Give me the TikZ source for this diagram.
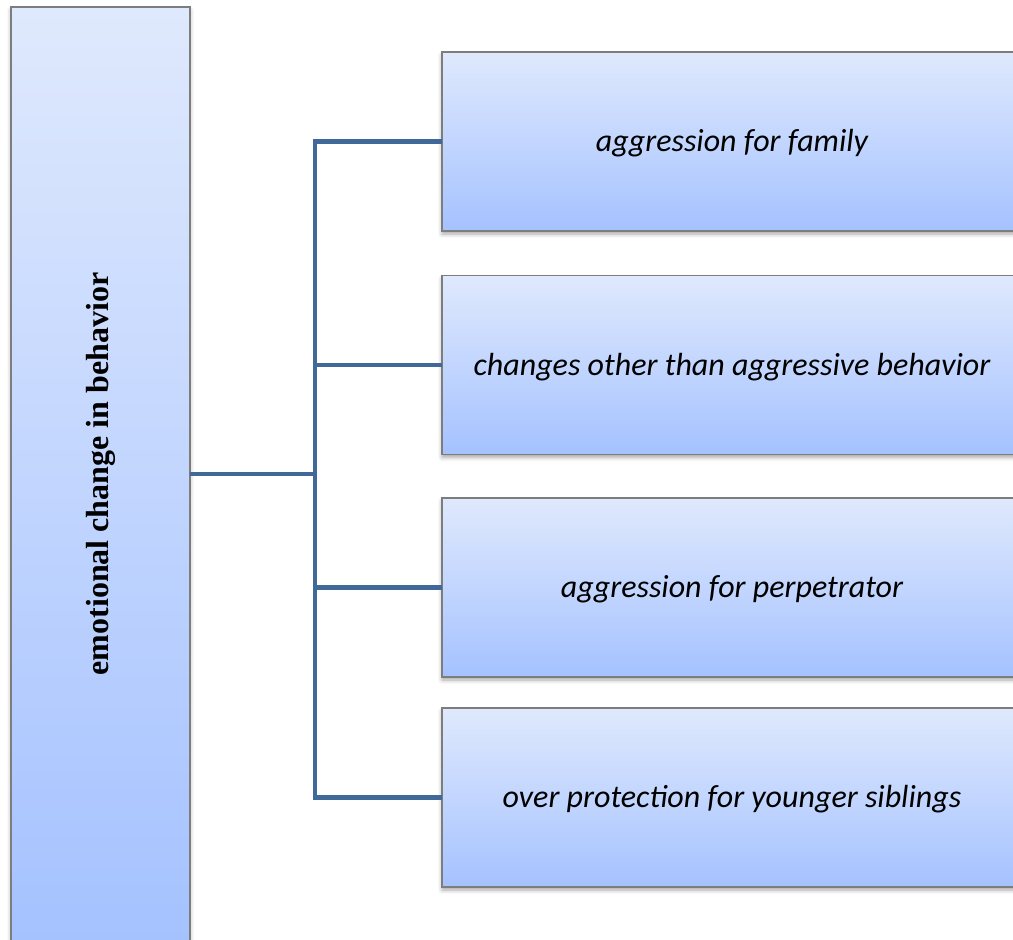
\documentclass[tikz,border=0pt]{standalone}
\usepackage{fontspec}
\setmainfont{Liberation Serif}
\newfontfamily\carlito{Carlito}
\usetikzlibrary{shadows.blur}
\definecolor{boxtop}{RGB}{223,233,253}
\definecolor{boxbottom}{RGB}{165,194,255}
\definecolor{boxrim}{RGB}{125,125,125}
\definecolor{linkblue}{RGB}{64,104,152}
\begin{document}
\begin{tikzpicture}[x=1pt,y=-1pt,
  card/.style={rectangle, draw=boxrim, line width=1.2pt,
    top color=boxtop, bottom color=boxbottom, inner sep=0pt, outer sep=0pt,
    blur shadow={shadow xshift=0pt, shadow yshift=-3pt,
      shadow blur radius=4pt, shadow opacity=35}},
  item/.style={card, minimum width=580pt, minimum height=179pt,
    text height=25pt, text depth=5pt,
    font=\carlito\itshape\fontsize{32}{38}\selectfont},
  link/.style={draw=linkblue, line width=4.5pt, line join=miter}]
\useasboundingbox (0,0) rectangle (1013,940);

% category column on the left
\node[card, minimum width=179pt, minimum height=934pt] (root) at (100.5,474) {};
\node[rotate=90, font=\bfseries\fontsize{32}{38}\selectfont] (rootlabel)
  at (root.center) {emotional change in behavior};

% the four behaviour boxes
\node[item] (a) at (732,141.5) {aggression for family};
\node[item] (b) at (732,365)   {changes other than aggressive behavior};
\node[item] (c) at (732,587.5) {aggression for perpetrator};
\node[item] (d) at (732,797.5) {over protection for younger siblings};

% bracket connecting the column to the boxes
\coordinate (trunk) at (315,474);
\draw[link] (root.east) -- (trunk);
\draw[link] (a.west) -| (d.west -| trunk) -- (d.west);
\draw[link] (b.west -| trunk) -- (b.west);
\draw[link] (c.west -| trunk) -- (c.west);
\end{tikzpicture}
\end{document}
